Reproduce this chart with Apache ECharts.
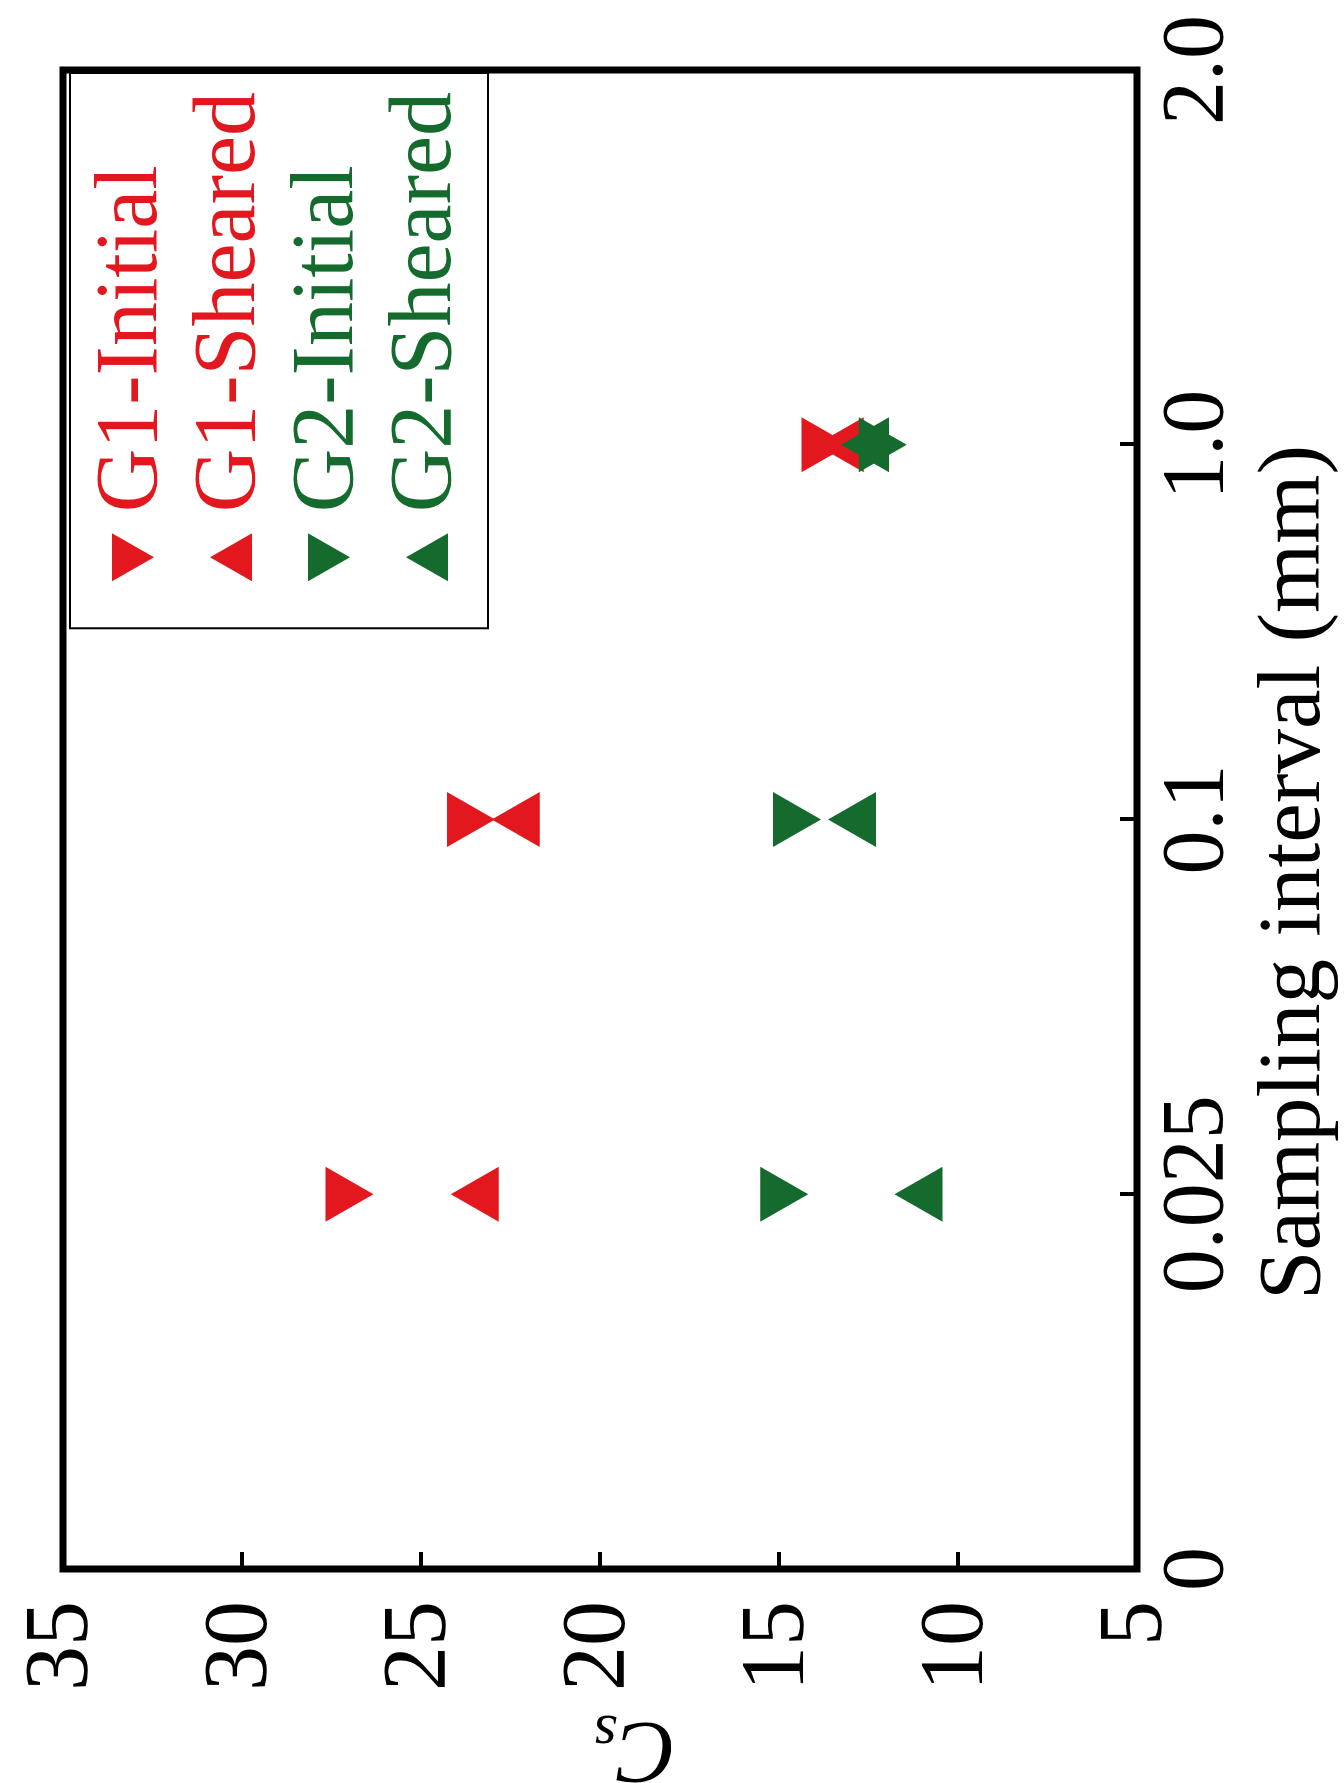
<!DOCTYPE html>
<html>
<head>
<meta charset="utf-8">
<script src="https://cdn.jsdelivr.net/npm/echarts@6/dist/echarts.min.js"></script>
<style>
  html, body { margin: 0; padding: 0; width: 1344px; height: 1783px; overflow: hidden; background: #fff; }
  /* The figure is laid out landscape and turned a quarter-turn counter-clockwise onto the portrait page. */
  #chart {
    position: absolute; left: 0; top: 0;
    width: 1783px; height: 1344px;
    transform-origin: 0 0;
    transform: translateY(1783px) rotate(-90deg);
  }
</style>
</head>
<body>
<div id="chart"></div>
<script>
// Sampling-interval tick labels (mm), evenly spaced along the axis
const intervals = ['0', '0.025', '0.1', '1.0', '2.0'];
// Intervals at which Cs was measured
const sampled = ['0.025', '0.1', '1.0'];
// Cs values per specimen state
const g1Initial = [27.0, 23.6, 13.7];
const g1Sheared = [23.5, 22.35, 13.3];
const g2Initial = [14.85, 14.5, 12.1];
const g2Sheared = [11.1, 12.96, 12.6];

const RED = '#e3171e';
const GREEN = '#146b2d';
const FONT = 'Liberation Serif';
const TRI_DOWN = 'path://M0,0L100,0L50,87Z';
const TRI_UP = 'path://M50,0L100,87L0,87Z';

const pairs = vals => sampled.map((c, i) => [c, vals[i]]);

const seriesDefs = [
  { name: 'G1-Initial', vals: g1Initial, color: RED, icon: TRI_DOWN },
  { name: 'G1-Sheared', vals: g1Sheared, color: RED, icon: TRI_UP },
  { name: 'G2-Initial', vals: g2Initial, color: GREEN, icon: TRI_DOWN },
  { name: 'G2-Sheared', vals: g2Sheared, color: GREEN, icon: TRI_UP }
];

const chart = echarts.init(document.getElementById('chart'), null, { renderer: 'canvas' });

chart.setOption({
  animation: false,
  backgroundColor: '#fff',
  grid: {
    left: 214, right: 70, top: 63, bottom: 207,
    outerBoundsMode: 'none',
    containLabel: false,
    show: true, borderWidth: 7, borderColor: '#000', backgroundColor: 'transparent'
  },
  xAxis: {
    type: 'category',
    data: intervals,
    boundaryGap: false,
    axisLine: { show: false },
    axisTick: { show: true, inside: true, length: 17, interval: 0, lineStyle: { color: '#000', width: 4 } },
    axisLabel: { interval: 0, fontSize: 88, fontFamily: FONT, color: '#000', margin: 18 },
    splitLine: { show: false },
    name: 'Sampling interval (mm)',
    nameLocation: 'middle',
    nameGap: 114,
    nameTextStyle: { fontSize: 89, fontFamily: FONT, color: '#000', padding: [0, 106, 0, 0] }
  },
  yAxis: {
    type: 'value',
    min: 5, max: 35, interval: 5,
    axisLine: { show: false },
    axisTick: { show: true, inside: true, length: 17, lineStyle: { color: '#000', width: 4 } },
    axisLabel: { fontSize: 90, fontFamily: FONT, color: '#000', margin: 32, padding: [0, 0, 30, 0] },
    splitLine: { show: false },
    name: '{c|C}{s|s}',
    nameLocation: 'middle',
    nameRotate: 90,
    nameGap: 92,
    nameTextStyle: {
      padding: [0, 70, 0, 0],
      rich: {
        c: { fontSize: 88, fontStyle: 'italic', fontFamily: FONT, color: '#000' },
        s: { fontSize: 60, fontStyle: 'italic', fontFamily: FONT, color: '#000', padding: [30, 0, 0, 0] }
      }
    }
  },
  legend: {
    orient: 'vertical',
    right: 73, top: 70,
    backgroundColor: '#fff',
    borderColor: '#000', borderWidth: 2,
    padding: [19, 19, 17, 47],
    itemWidth: 48, itemHeight: 42, itemGap: 10,
    textStyle: { fontSize: 88, fontFamily: FONT, padding: [0, 0, 0, 16] },
    data: seriesDefs.map(d => ({ name: d.name, icon: d.icon, itemStyle: { color: d.color }, textStyle: { color: d.color } }))
  },
  series: seriesDefs.map(d => ({
    name: d.name,
    type: 'scatter',
    symbol: d.icon,
    symbolSize: [55, 48],
    itemStyle: { color: d.color, opacity: 1 },
    data: pairs(d.vals)
  }))
});
</script>
</body>
</html>
